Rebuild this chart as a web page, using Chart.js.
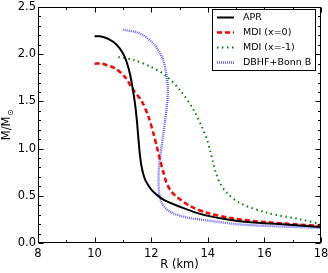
<!DOCTYPE html>
<html>
<head>
<meta charset="utf-8">
<script src="https://cdn.jsdelivr.net/npm/chart.js@4/dist/chart.umd.min.js"></script>
<style>
  html, body { margin: 0; padding: 0; background: #fff; }
  #wrap { width: 328px; height: 273px; }
</style>
</head>
<body>
<div id="wrap"><canvas id="c"></canvas></div>
<script>
// mass-radius curves, R in km, M in solar masses
const aprR = [10.0, 10.19, 10.5, 10.78, 11.0, 11.13, 11.25, 11.35, 11.43, 11.49, 11.53, 11.57, 11.61, 11.66, 11.72, 11.8, 11.9, 12.02, 12.2, 12.43, 12.8, 13.14, 13.5, 13.97, 14.7, 15.5, 16.5, 18.0];
const aprM = [2.19, 2.19, 2.16, 2.10, 2.01, 1.92, 1.79, 1.63, 1.47, 1.31, 1.17, 1.03, 0.91, 0.81, 0.73, 0.66, 0.61, 0.56, 0.51, 0.46, 0.41, 0.37, 0.33, 0.29, 0.25, 0.22, 0.20, 0.17];

const mdi0R = [10.0, 10.25, 10.72, 11.07, 11.37, 11.67, 11.9, 12.08, 12.2, 12.32, 12.44, 12.55, 12.7, 12.9, 13.38, 13.97, 14.9, 16.1, 18.0];
const mdi0M = [1.90, 1.90, 1.85, 1.76, 1.62, 1.50, 1.34, 1.16, 1.02, 0.87, 0.74, 0.63, 0.55, 0.49, 0.39, 0.32, 0.26, 0.22, 0.18];

const mdi1R = [10.84, 11.37, 11.96, 12.49, 13.02, 13.5, 13.79, 13.97, 14.07, 14.17, 14.28, 14.42, 14.68, 15.15, 16.1, 17.28, 18.0];
const mdi1M = [1.97, 1.94, 1.87, 1.78, 1.62, 1.41, 1.23, 1.10, 0.99, 0.87, 0.75, 0.64, 0.53, 0.42, 0.32, 0.25, 0.20];

const dbhfR = [11.0, 11.6, 12.08, 12.38, 12.53, 12.59, 12.55, 12.49, 12.43, 12.37, 12.31, 12.27, 12.26, 12.28, 12.38, 12.67, 13.26, 13.97, 15.0, 16.1, 18.0];
const dbhfM = [2.26, 2.22, 2.11, 1.97, 1.80, 1.62, 1.44, 1.30, 1.16, 1.03, 0.90, 0.78, 0.66, 0.53, 0.42, 0.33, 0.27, 0.24, 0.20, 0.18, 0.16];

const seriesNames = ["APR", "MDI (x=0)", "MDI (x=-1)", "DBHF+Bonn B"];
const xTicks = [8, 10, 12, 14, 16, 18];
const yTicks = [0.0, 0.5, 1.0, 1.5, 2.0, 2.5];

const pts = (xs, ys) => xs.map((x, i) => ({ x: x, y: ys[i] }));
const FONT = "DejaVu Sans";

const styles = [
  { color: "#000000", width: 2, dash: [] },
  { color: "#ff0000", width: 2.5, dash: [5, 3] },
  { color: "#008000", width: 2, dash: [1.5, 3.5, 1.5, 3.5] },
  { color: "rgba(40,40,255,0.75)", width: 2.3, dash: [1, 1] }
];

const datasets = [pts(aprR, aprM), pts(mdi0R, mdi0M), pts(mdi1R, mdi1M), pts(dbhfR, dbhfM)].map((d, i) => ({
  label: seriesNames[i],
  data: d,
  showLine: true,
  borderColor: styles[i].color,
  borderWidth: styles[i].width,
  borderDash: styles[i].dash,
  pointRadius: 0,
  tension: 0.3,
  fill: false
}));

// matplotlib-like frame with inward ticks on all sides, legend box and y label
const framePlugin = {
  id: "frame",
  afterDraw(chart) {
    const ctx = chart.ctx;
    const a = chart.chartArea;
    const xs = chart.scales.x, ys = chart.scales.y;
    ctx.save();
    ctx.strokeStyle = "#000";
    ctx.lineWidth = 1;
    ctx.setLineDash([]);
    const L = Math.round(a.left) + 0.5, T = Math.round(a.top) + 0.5;
    const R = Math.round(a.right) - 0.5, B = Math.round(a.bottom) - 0.5;
    ctx.strokeRect(L, T, R - L, B - T);
    ctx.beginPath();
    for (let v = 8; v <= 18; v += 1) {
      const px = Math.round(xs.getPixelForValue(v)) + 0.5;
      const len = v % 2 === 0 ? 5 : 2.5;
      ctx.moveTo(px, B); ctx.lineTo(px, B - len);
      ctx.moveTo(px, T); ctx.lineTo(px, T + len);
    }
    for (let k = 0; k <= 25; k++) {
      const py = Math.round(ys.getPixelForValue(k / 10)) + 0.5;
      const len = k % 5 === 0 ? 5 : 2.5;
      ctx.moveTo(L, py); ctx.lineTo(L + len, py);
      ctx.moveTo(R, py); ctx.lineTo(R - len, py);
    }
    ctx.stroke();

    // legend
    const lx = 212.5, ly = 9.5, lw = 103, lh = 61;
    ctx.fillStyle = "#fff";
    ctx.fillRect(lx, ly, lw, lh);
    ctx.strokeStyle = "#000";
    ctx.strokeRect(lx, ly, lw, lh);
    ctx.font = "9.5px '" + FONT + "'";
    ctx.textBaseline = "middle";
    ctx.textAlign = "left";
    seriesNames.forEach((name, i) => {
      const yy = 17.5 + i * 15;
      ctx.strokeStyle = styles[i].color;
      ctx.lineWidth = styles[i].width;
      ctx.setLineDash(styles[i].dash);
      ctx.beginPath();
      ctx.moveTo(217, yy); ctx.lineTo(234, yy);
      ctx.stroke();
      ctx.fillStyle = "#000";
      ctx.fillText(name, 243, yy);
    });

    // y axis title M/M_sun
    ctx.setLineDash([]);
    ctx.translate(10, 125);
    ctx.rotate(-Math.PI / 2);
    ctx.fillStyle = "#000";
    ctx.textBaseline = "alphabetic";
    const main = "M/M";
    ctx.font = "11.5px '" + FONT + "'";
    const w1 = ctx.measureText(main).width;
    ctx.font = "8px '" + FONT + "'";
    const w2 = ctx.measureText("\u2299").width;
    const start = -(w1 + w2) / 2;
    ctx.font = "11.5px '" + FONT + "'";
    ctx.fillText(main, start, 0);
    ctx.font = "8px '" + FONT + "'";
    ctx.fillText("\u2299", start + w1 + 0.5, 2.5);
    ctx.restore();
  }
};

new Chart(document.getElementById("c"), {
  type: "scatter",
  data: { datasets: datasets },
  options: {
    responsive: true,
    maintainAspectRatio: false,
    animation: false,
    layout: { padding: { top: 7, right: 7, left: 0, bottom: 0 } },
    plugins: { legend: { display: false }, tooltip: { enabled: false } },
    scales: {
      x: {
        type: "linear",
        min: 8, max: 18,
        afterBuildTicks: s => { s.ticks = xTicks.map(v => ({ value: v })); },
        afterFit: s => { s.height = 30; s.paddingLeft = 0; s.paddingRight = 0; },
        grid: { display: false, drawTicks: false },
        border: { display: false },
        ticks: { color: "#000", padding: 4, maxRotation: 0, font: { family: FONT, size: 11.5 }, callback: v => String(v) },
        title: { display: true, text: "R (km)", color: "#000", font: { family: FONT, size: 11.5 }, padding: { top: 0, bottom: 1 } }
      },
      y: {
        type: "linear",
        min: 0, max: 2.5,
        afterBuildTicks: s => { s.ticks = yTicks.map(v => ({ value: v })); },
        afterFit: s => { s.width = 38; s.paddingTop = 0; s.paddingBottom = 0; },
        grid: { display: false, drawTicks: false },
        border: { display: false },
        ticks: { color: "#000", padding: 2, font: { family: FONT, size: 11.5 }, callback: v => v.toFixed(1) }
      }
    }
  },
  plugins: [framePlugin]
});
</script>
</body>
</html>
